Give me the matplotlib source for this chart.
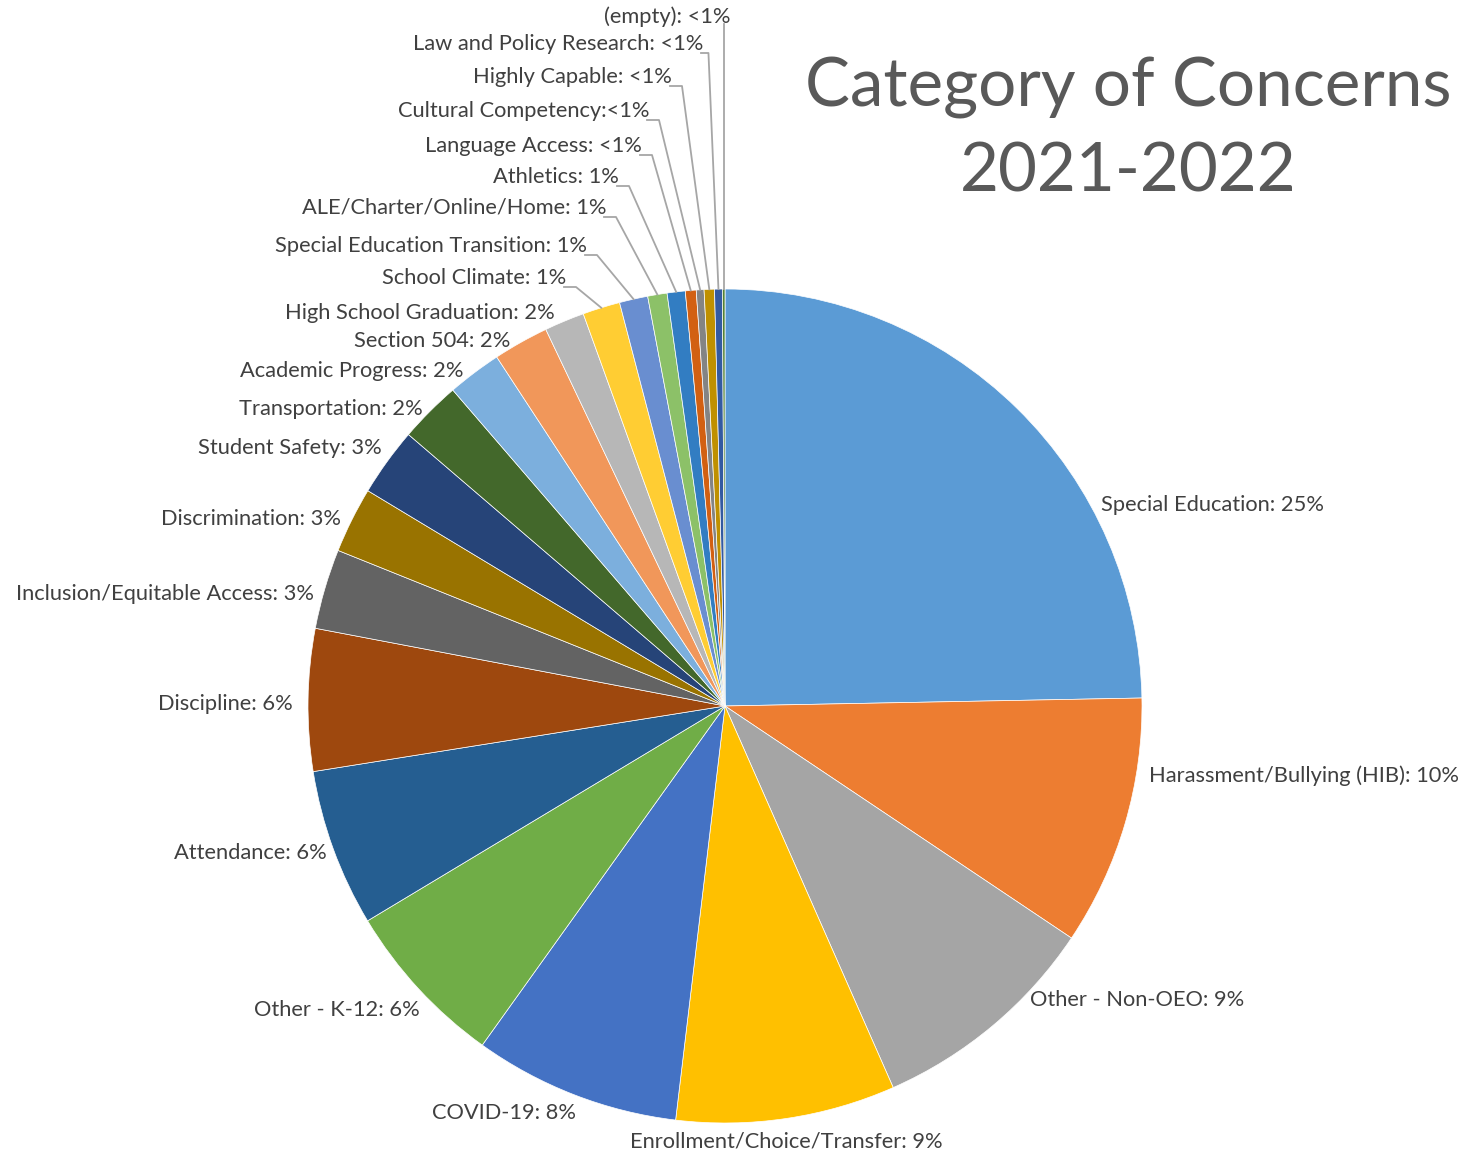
import matplotlib
matplotlib.use("Agg")
import matplotlib.pyplot as plt
import numpy as np

# --- data (percent of concerns) ---
categories = ["Special Education", "Harassment/Bullying (HIB)", "Other - Non-OEO",
              "Enrollment/Choice/Transfer", "COVID-19", "Other - K-12", "Attendance",
              "Discipline", "Inclusion/Equitable Access", "Discrimination", "Student Safety",
              "Transportation", "Academic Progress", "Section 504", "High School Graduation",
              "School Climate", "Special Education Transition", "ALE/Charter/Online/Home",
              "Athletics", "Language Access", "Cultural Competency", "Highly Capable",
              "Law and Policy Research", "(empty)"]
shares = [24.7, 9.7, 9.0, 8.5, 8.0, 6.5, 6.1, 5.5, 3.1, 2.55, 2.65, 2.4, 2.1, 2.15,
          1.55, 1.45, 1.1, 0.75, 0.7, 0.42, 0.3, 0.4, 0.3, 0.1]
pct_text = ["25%", "10%", "9%", "9%", "8%", "6%", "6%", "6%", "3%", "3%", "3%", "2%",
            "2%", "2%", "2%", "1%", "1%", "1%", "1%", "<1%", "<1%", "<1%", "<1%", "<1%"]

colors = ["#5B9BD5", "#ED7D31", "#A5A5A5", "#FFC000", "#4472C4", "#70AD47",
          "#255E91", "#9E480E", "#636363", "#997300", "#264478", "#43682B",
          "#7CAFDD", "#F1975A", "#B7B7B7", "#FFCD33", "#698ED0", "#8CC168",
          "#327DC2", "#D26012", "#848484", "#BF9000", "#335AA1", "#548235"]

# label layout in canvas pixels (x, y measured from top)
label_x = [1101, 1149, 1030, 786, 576, 420, 327, 293, 314, 341, 382, 423, 464, 510,
           555, 566, 587, 606, 619, 642, 649, 672, 703, 730]
label_y = [505, 776, 1000, 1141, 1113, 1010, 853, 704, 594, 519, 448, 409, 371, 341,
           313, 278, 246, 208, 177, 146, 111, 77, 44, 17]
label_ha = ["left", "left", "left", "center"] + ["right"] * 20
first_leader = 15

W, H = 1468, 1156
CX, CY, R = 725, 706, 417
FONT = "Lato"
TXT = "#404040"

fig = plt.figure(figsize=(W / 100, H / 100), dpi=100)
ax = fig.add_axes([0, 0, 1, 1])
wedges, _ = ax.pie(shares, colors=colors, startangle=90, counterclock=False,
                   center=(CX, H - CY), radius=R,
                   wedgeprops=dict(linewidth=0.5, edgecolor="white"))
ax.set_xlim(0, W)
ax.set_ylim(0, H)
ax.set_aspect("equal")
ax.axis("off")

renderer = fig.canvas.get_renderer()


def fit_size(s, width_px, size0=20):
    t = fig.text(0, 0, s, fontsize=size0, family=FONT)
    w = t.get_window_extent(renderer).width
    t.remove()
    return size0 * width_px / w


lab_size = fit_size("Special Education: 25%", 224)

labels = []
for i in range(len(categories)):
    sep = ":" if categories[i] == "Cultural Competency" else ": "
    labels.append(categories[i] + sep + pct_text[i])

for i, s in enumerate(labels):
    ax.text(label_x[i], H - label_y[i], s, ha=label_ha[i], va="center",
            fontsize=lab_size, family=FONT, color=TXT)
    if i >= first_leader:
        w = wedges[i]
        mid = np.deg2rad((w.theta1 + w.theta2) / 2)
        px = CX + R * np.cos(mid)
        py = (H - CY) + R * np.sin(mid)
        ly = H - label_y[i] - 9
        if px < label_x[i] + 2:
            ax.plot([px, px], [ly + 2, py], color="#A6A6A6", lw=1.3)
        else:
            x0 = label_x[i] - 2
            x1 = min(label_x[i] + 10, px - 10)
            ax.plot([x0, x1, px], [ly, ly, py], color="#A6A6A6", lw=1.3)

# title
tsize = fit_size("Category of Concerns", 645, 40)
ax.text(1128, H - 88, "Category of Concerns", ha="center", va="center",
        fontsize=tsize, family=FONT, color="#595959")
ax.text(1128, H - 172, "2021-2022", ha="center", va="center",
        fontsize=tsize, family=FONT, color="#595959")

fig.savefig("out.png", dpi=100)
